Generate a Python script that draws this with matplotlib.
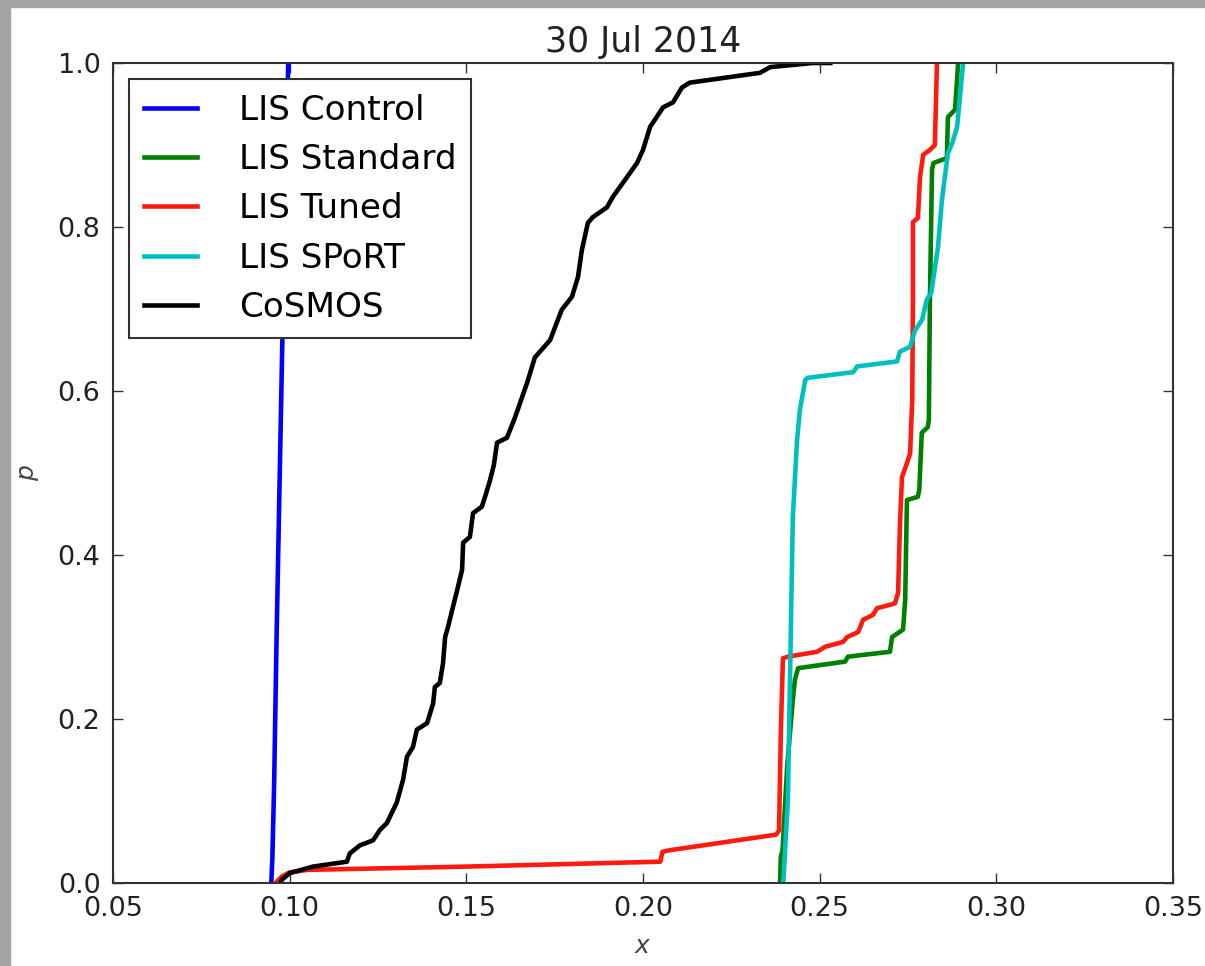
"""Cumulative distributions of x for several LIS runs vs CoSMOS, 30 Jul 2014."""

import numpy as np
import matplotlib
import matplotlib.pyplot as plt
from matplotlib.patches import Rectangle

matplotlib.use("Agg")

# values (x, p pairs)
control_x = [0.0948, 0.0951, 0.0956, 0.0963, 0.0972, 0.0981, 0.0990, 0.0996]
control_p = [0.0, 0.03, 0.12, 0.30, 0.50, 0.70, 0.88, 1.0]

standard_x = [0.2388, 0.2390, 0.2395, 0.2408, 0.2424, 0.2430, 0.2439, 0.2572, 0.2580,
              0.2699, 0.2705, 0.2736, 0.2742, 0.2747, 0.2778, 0.2782, 0.2789, 0.2806,
              0.2809, 0.2812, 0.2818, 0.2822, 0.2860, 0.2863, 0.2883, 0.2892]
standard_p = [0.0, 0.032, 0.040, 0.142, 0.223, 0.248, 0.262, 0.270, 0.276,
              0.282, 0.300, 0.309, 0.345, 0.467, 0.471, 0.480, 0.549, 0.556,
              0.565, 0.711, 0.870, 0.878, 0.884, 0.934, 0.943, 1.0]

tuned_x = [0.0960, 0.0978, 0.1000, 0.1050, 0.1500, 0.2049, 0.2055, 0.2076, 0.2377,
           0.2385, 0.2390, 0.2396, 0.2410, 0.2493, 0.2515, 0.2566, 0.2578, 0.2609,
           0.2623, 0.2651, 0.2662, 0.2713, 0.2722, 0.2727, 0.2733, 0.2747, 0.2756,
           0.2762, 0.2764, 0.2764, 0.2778, 0.2784, 0.2793, 0.2812, 0.2826, 0.2832]
tuned_p = [0.0, 0.008, 0.013, 0.016, 0.020, 0.026, 0.038, 0.040, 0.059,
           0.064, 0.183, 0.274, 0.276, 0.282, 0.288, 0.294, 0.300, 0.306,
           0.321, 0.327, 0.335, 0.341, 0.354, 0.434, 0.495, 0.512, 0.524,
           0.589, 0.711, 0.806, 0.811, 0.861, 0.888, 0.894, 0.900, 1.0]

sport_x = [0.2397, 0.2410, 0.2424, 0.2436, 0.2444, 0.2459, 0.2465, 0.2595, 0.2606,
           0.2719, 0.2727, 0.2756, 0.2770, 0.2790, 0.2803, 0.2816, 0.2835, 0.2846,
           0.2863, 0.2875, 0.2889, 0.2906]
sport_p = [0.0, 0.101, 0.446, 0.540, 0.577, 0.613, 0.616, 0.623, 0.630,
           0.636, 0.648, 0.654, 0.674, 0.687, 0.711, 0.720, 0.776, 0.833,
           0.890, 0.902, 0.922, 1.0]

cosmos_x = [0.0973, 0.0978, 0.1000, 0.1066, 0.1162, 0.1170, 0.1199, 0.1236, 0.1256,
            0.1275, 0.1303, 0.1321, 0.1332, 0.1349, 0.1360, 0.1389, 0.1406, 0.1411,
            0.1425, 0.1434, 0.1440, 0.1448, 0.1460, 0.1474, 0.1488, 0.1491, 0.1510,
            0.1519, 0.1544, 0.1553, 0.1567, 0.1578, 0.1587, 0.1615, 0.1638, 0.1672,
            0.1694, 0.1737, 0.1770, 0.1799, 0.1816, 0.1827, 0.1844, 0.1858, 0.1898,
            0.1915, 0.1955, 0.1983, 0.2000, 0.2020, 0.2057, 0.2085, 0.2110, 0.2132,
            0.2331, 0.2360, 0.2480, 0.2530]
cosmos_p = [0.0, 0.004, 0.012, 0.020, 0.026, 0.036, 0.046, 0.052, 0.065,
            0.073, 0.098, 0.126, 0.154, 0.166, 0.187, 0.195, 0.219, 0.239,
            0.244, 0.268, 0.300, 0.312, 0.333, 0.357, 0.382, 0.415, 0.422,
            0.451, 0.459, 0.471, 0.491, 0.510, 0.537, 0.543, 0.568, 0.610,
            0.641, 0.662, 0.699, 0.715, 0.739, 0.772, 0.805, 0.812, 0.824,
            0.837, 0.861, 0.878, 0.894, 0.922, 0.946, 0.952, 0.970, 0.976,
            0.988, 0.995, 1.0, 1.0]

series = [
    ("LIS Control", control_x, control_p, "#0000ff"),
    ("LIS Standard", standard_x, standard_p, "#008000"),
    ("LIS Tuned", tuned_x, tuned_p, "#ff1a10"),
    ("LIS SPoRT", sport_x, sport_p, "#00bfbf"),
    ("CoSMOS", cosmos_x, cosmos_p, "#000000"),
]

fig = plt.figure(figsize=(12.05, 9.66), dpi=100, facecolor="white")
ax = fig.add_axes([113 / 1205, 1 - 883 / 966, 1060 / 1205, 820 / 966])

# grey frame strips around the screenshot
fig.patches.append(Rectangle((0, 1 - 7 / 966), 1, 7 / 966, transform=fig.transFigure,
                             color="#a3a3a3", zorder=-1))
fig.patches.append(Rectangle((0, 0), 10 / 1205, 1, transform=fig.transFigure,
                             color="#a3a3a3", zorder=-1))

for label, xs, ps, color in series:
    ax.plot(xs, ps, color=color, linewidth=3.3, label=label)

ax.set_xlim(0.05, 0.35)
ax.set_ylim(0.0, 1.0)
ax.set_xticks(np.arange(0.05, 0.351, 0.05))
ax.set_yticks(np.arange(0.0, 1.01, 0.2))
ax.xaxis.set_major_formatter(matplotlib.ticker.FormatStrFormatter("%.2f"))
ax.yaxis.set_major_formatter(matplotlib.ticker.FormatStrFormatter("%.1f"))
ax.tick_params(direction="in", length=7, width=1, top=True, right=True,
               labelsize=19.5, pad=9, colors="#333333", labelcolor="#222222")
for spine in ax.spines.values():
    spine.set_color("#333333")
    spine.set_linewidth(1.5)

ax.set_title("30 Jul 2014", fontsize=25, pad=8, color="#222222")
ax.set_xlabel("$x$", fontsize=18, labelpad=9, color="#444444")
ax.set_ylabel("$p$", fontsize=18, labelpad=12, color="#444444")

leg = ax.legend(loc="upper left", fontsize=24.7, fancybox=False, framealpha=1,
                edgecolor="#333333", borderaxespad=0.48, borderpad=0.42,
                handlelength=1.55, handletextpad=1.22, labelspacing=0.475)
leg.get_frame().set_linewidth(1.5)

fig.savefig("out.png", dpi=100, facecolor=fig.get_facecolor())
